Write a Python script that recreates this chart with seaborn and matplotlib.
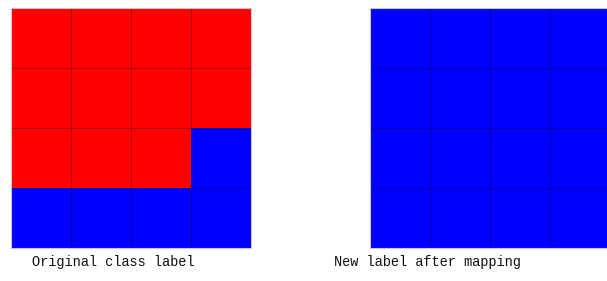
import numpy as np
import matplotlib
matplotlib.use("Agg")
import matplotlib.pyplot as plt
from matplotlib.colors import ListedColormap
import seaborn as sns

# class labels: 0 = red, 1 = blue
original_labels = [
    [0, 0, 0, 0],
    [0, 0, 0, 0],
    [0, 0, 0, 1],
    [1, 1, 1, 1],
]
mapped_labels = [
    [1, 1, 1, 1],
    [1, 1, 1, 1],
    [1, 1, 1, 1],
    [1, 1, 1, 1],
]
captions = ["Original class label", "New label after mapping"]
label_colors = ["#ff0000", "#0000ff"]

W, H = 607, 281
fig = plt.figure(figsize=(W / 100, H / 100), dpi=100)
cmap = ListedColormap(label_colors)

def draw(data, left, caption_x, caption):
    ax = fig.add_axes([left / W, (H - 248) / H, 240 / W, 240 / H])
    sns.heatmap(np.array(data), ax=ax, cmap=cmap, vmin=0, vmax=1, cbar=False,
                linewidths=0.6, linecolor=(0, 0, 0, 0.3),
                xticklabels=False, yticklabels=False, square=False)
    for s in ax.spines.values():
        s.set_visible(True)
        s.set_color("#c8c8c8")
        s.set_linewidth(0.8)
    fig.text(caption_x / W, 1 - 262 / H, caption, ha="center", va="center",
             fontsize=9.8, family="Liberation Mono", color="#111111")

draw(original_labels, 11, 113, captions[0])
draw(mapped_labels, 370, 427, captions[1])

fig.savefig("out.png", dpi=100)
